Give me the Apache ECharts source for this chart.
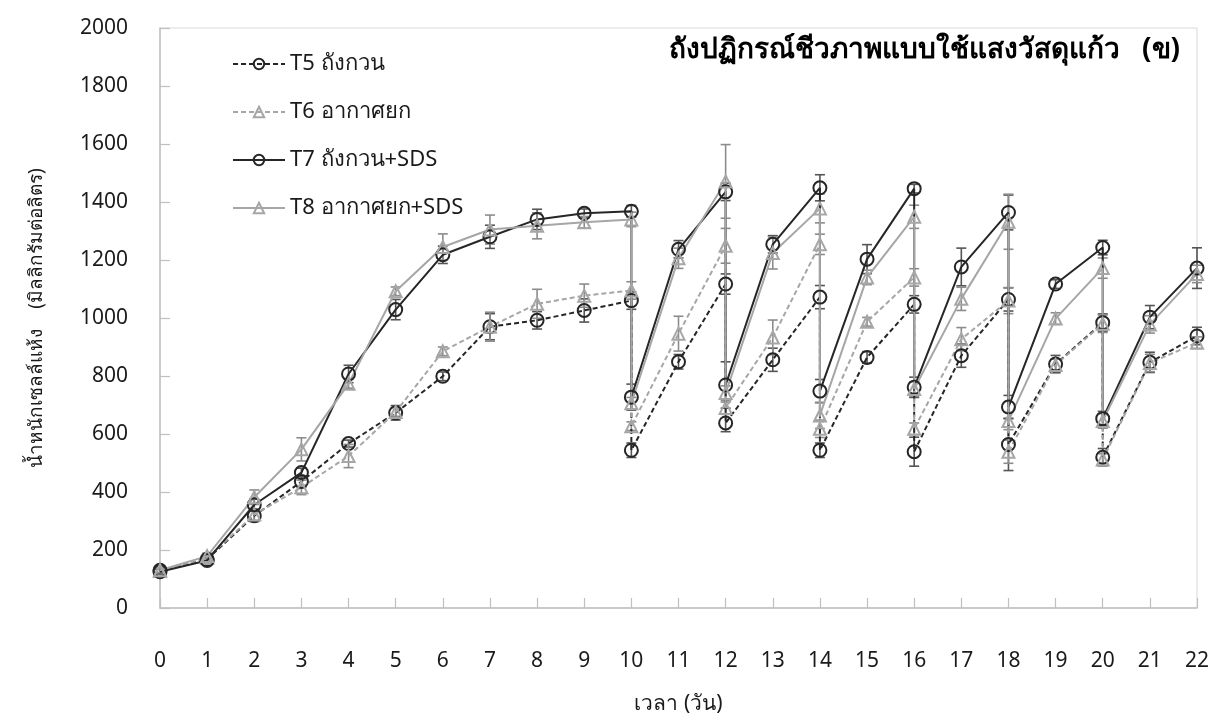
<!DOCTYPE html>
<html>
<head>
<meta charset="utf-8">
<script src="https://cdn.jsdelivr.net/npm/echarts@6/dist/echarts.min.js"></script>
<style>
  html, body { margin: 0; padding: 0; background: #fff; }
  #chart { width: 1223px; height: 720px; }
</style>
</head>
<body>
<div id="chart"></div>
<script>
// Sampling days; harvest days appear twice (before / after dilution)
const days = [0, 1, 2, 3, 4, 5, 6, 7, 8, 9, 10, 10, 11, 12, 12, 13, 14, 14, 15, 16, 16, 17, 18, 18, 19, 20, 20, 21, 22];

// Dry cell weight (mg/L)
const t5 = [130, 168, 318, 436, 567, 673, 799, 970, 992, 1026, 1060, 544, 849, 1117, 638, 856, 1072, 544, 864, 1047, 539, 870, 1064, 564, 841, 984, 520, 847, 938];
const t6 = [128, 172, 322, 416, 524, 676, 885, 970, 1049, 1077, 1095, 627, 946, 1249, 690, 933, 1254, 618, 987, 1140, 618, 927, 1060, 539, 838, 980, 512, 845, 915];
const t7 = [125, 164, 356, 467, 807, 1029, 1218, 1280, 1340, 1361, 1368, 727, 1237, 1435, 769, 1254, 1449, 748, 1203, 1446, 761, 1176, 1364, 693, 1117, 1243, 653, 1003, 1172];
const t8 = [130, 179, 382, 547, 773, 1092, 1245, 1305, 1318, 1330, 1340, 706, 1206, 1471, 741, 1224, 1378, 664, 1140, 1349, 755, 1066, 1332, 645, 998, 1172, 645, 978, 1152];

// Standard deviations
const t5Err = [8, 10, 20, 20, 12, 25, 15, 45, 30, 40, 30, 25, 25, 35, 30, 40, 40, 25, 20, 30, 50, 40, 40, 90, 30, 30, 30, 35, 30];
const t6Err = [8, 10, 20, 25, 40, 15, 15, 50, 50, 40, 30, 15, 60, 60, 20, 60, 35, 30, 15, 30, 20, 40, 45, 40, 20, 30, 20, 30, 20];
const t7Err = [8, 10, 20, 15, 30, 35, 30, 40, 35, 15, 20, 45, 30, 30, 80, 30, 45, 40, 50, 15, 35, 65, 60, 40, 15, 25, 25, 40, 70];
const t8Err = [8, 10, 25, 40, 15, 15, 45, 50, 45, 20, 25, 20, 35, 127, 25, 55, 50, 45, 25, 40, 25, 40, 95, 30, 20, 35, 25, 30, 30];

const xTicks = [0, 22, 1];
const yTicks = [0, 2000, 200];

const seriesNames = ['T5 ถังกวน', 'T6 อากาศยก', 'T7 ถังกวน+SDS', 'T8 อากาศยก+SDS'];
const chartTitle = 'ถังปฏิกรณ์ชีวภาพแบบใช้แสงวัสดุแก้ว   (ข)';
const xName = 'เวลา (วัน)';
const yName = 'น้ำหนักเซลล์แห้ง    (มิลลิกรัมต่อลิตร)';

const FONT = "'Noto Sans', 'DejaVu Sans', sans-serif";
const TEXT = '#1a1a1a';
const BLACK = '#262626';
const GRAY = '#a6a6a6';

function pairs(vals) { return days.map((d, i) => [d, vals[i]]); }
function errData(vals, errs) { return days.map((d, i) => [d, vals[i] - errs[i], vals[i] + errs[i]]); }

function errorSeries(vals, errs, color) {
  return {
    type: 'custom',
    data: errData(vals, errs),
    encode: { x: 0, y: [1, 2] },
    z: 1,
    silent: true,
    renderItem: function (params, api) {
      const x = api.value(0);
      const lo = api.coord([x, api.value(1)]);
      const hi = api.coord([x, api.value(2)]);
      const w = 5;
      const st = { stroke: color, lineWidth: 1.6, fill: null };
      return {
        type: 'group',
        children: [
          { type: 'line', shape: { x1: lo[0], y1: lo[1], x2: hi[0], y2: hi[1] }, style: st },
          { type: 'line', shape: { x1: lo[0] - w, y1: lo[1], x2: lo[0] + w, y2: lo[1] }, style: st },
          { type: 'line', shape: { x1: hi[0] - w, y1: hi[1], x2: hi[0] + w, y2: hi[1] }, style: st }
        ]
      };
    }
  };
}

function lineSeries(name, vals, color, dashed, symbol) {
  return {
    name: name,
    type: 'line',
    data: pairs(vals),
    z: 3,
    symbol: symbol,
    symbolSize: symbol === 'circle' ? 13 : 12,
    showAllSymbol: true,
    lineStyle: { color: color, width: 2, type: dashed ? [5, 3] : 'solid' },
    itemStyle: { color: 'rgba(255,255,255,0)', borderColor: color, borderWidth: 2 },
    emphasis: { disabled: true }
  };
}

const chart = echarts.init(document.getElementById('chart'), null, { renderer: 'canvas' });

chart.setOption({
  animation: false,
  backgroundColor: '#ffffff',
  textStyle: { fontFamily: FONT },
  title: {
    text: chartTitle,
    right: 38,
    top: 31,
    textStyle: { fontFamily: FONT, fontSize: 28, fontWeight: 'bold', color: '#000' }
  },
  legend: {
    orient: 'vertical',
    left: 227,
    top: 48,
    itemWidth: 52,
    itemHeight: 13,
    itemGap: 26,
    data: seriesNames,
    textStyle: { fontFamily: FONT, fontSize: 22, color: TEXT }
  },
  grid: {
    left: 160, right: 26, top: 28, bottom: 108,
    show: true, borderColor: '#d9d9d9', borderWidth: 1, backgroundColor: 'transparent'
  },
  xAxis: {
    type: 'value',
    min: xTicks[0], max: xTicks[1], interval: xTicks[2],
    name: xName,
    nameLocation: 'middle',
    nameGap: 86,
    nameTextStyle: { fontFamily: FONT, fontSize: 21, color: TEXT },
    axisLine: { show: true, lineStyle: { color: '#bfbfbf', width: 1.5 } },
    axisTick: { show: true, inside: true, length: 10, lineStyle: { color: '#bfbfbf', width: 1.2 } },
    axisLabel: { margin: 43, fontFamily: FONT, fontSize: 21, color: TEXT },
    splitLine: { show: false }
  },
  yAxis: {
    type: 'value',
    min: yTicks[0], max: yTicks[1], interval: yTicks[2],
    name: yName,
    nameLocation: 'middle',
    nameGap: 114,
    nameRotate: 90,
    nameTextStyle: { fontFamily: FONT, fontSize: 19, color: TEXT },
    axisLine: { show: true, lineStyle: { color: '#bfbfbf', width: 1.5 } },
    axisTick: { show: true, inside: true, length: 10, lineStyle: { color: '#bfbfbf', width: 1.2 } },
    axisLabel: { margin: 32, fontFamily: FONT, fontSize: 21, color: TEXT, formatter: v => String(v) },
    splitLine: { show: false }
  },
  series: [
    errorSeries(t5, t5Err, '#555555'),
    errorSeries(t6, t6Err, '#8c8c8c'),
    errorSeries(t7, t7Err, '#555555'),
    errorSeries(t8, t8Err, '#8c8c8c'),
    lineSeries(seriesNames[0], t5, BLACK, true, 'circle'),
    lineSeries(seriesNames[1], t6, GRAY, true, 'triangle'),
    lineSeries(seriesNames[2], t7, BLACK, false, 'circle'),
    lineSeries(seriesNames[3], t8, GRAY, false, 'triangle')
  ]
});
</script>
</body>
</html>
